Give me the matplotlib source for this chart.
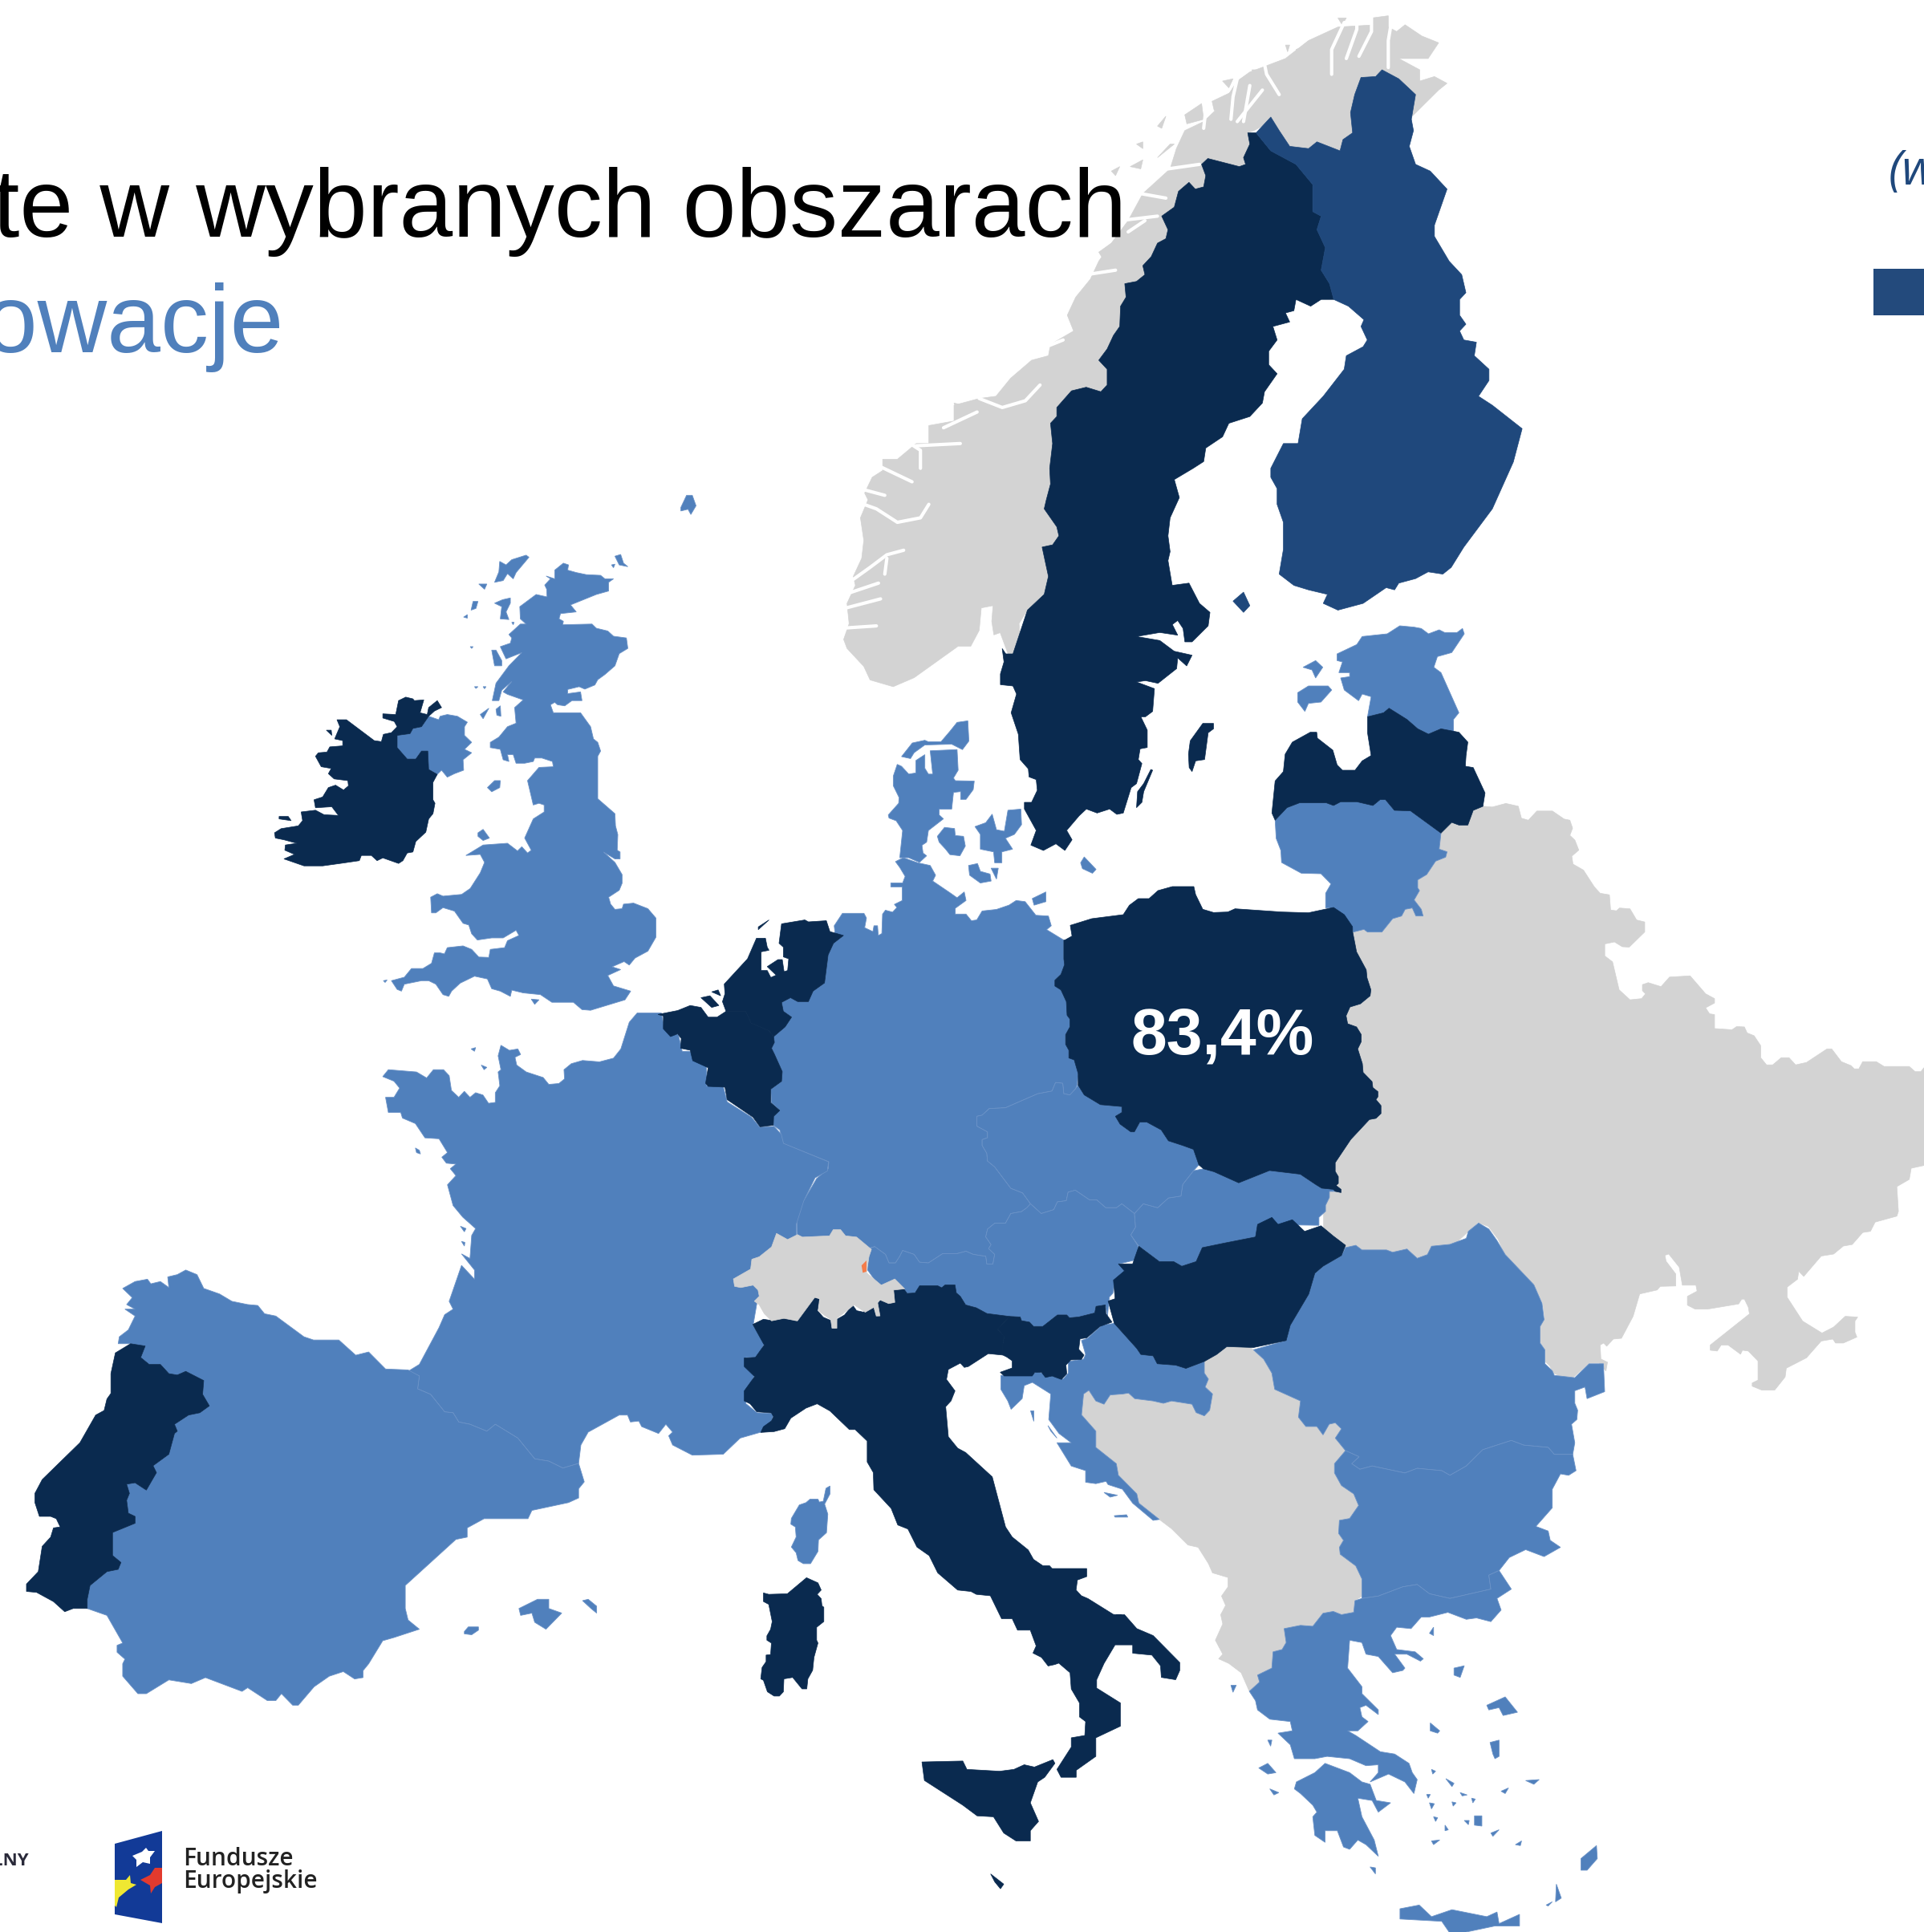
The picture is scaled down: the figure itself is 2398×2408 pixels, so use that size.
import matplotlib
matplotlib.use("Agg")
import matplotlib.pyplot as plt
from matplotlib.patches import Polygon, Rectangle

DARK = "#0A2A4F"
MID = "#5080BC"
FIN = "#1F487C"
GREY = "#D3D3D3"
EDGE = "#6A92C7"


def crop(x0, y0, w, h):
    # outlines were traced on zoomed crops of the picture, this puts them back in picture pixels
    def conv(pts):
        return [(x0 + x * w / 1568, y0 + y * h / 1568) for x, y in pts]
    return conv


z1 = crop(1040, 0, 820, 880)
z2 = crop(320, 600, 560, 680)
z3 = crop(1200, 760, 700, 1568 / 3)
z4 = crop(1200, 1500, 800, 908)
z5 = crop(0, 1250, 1100, 900)
z6 = crop(800, 880, 700, 760)
z7 = crop(1640, 980, 758, 780)
z8 = crop(920, 1580, 520, 560)
preview = crop(0, 0, 2398 * 1568 / 1561, 2408)

norway = z1([(430,1455),(415,1455),(395,1405),(380,1410),(375,1380),(378,1345),(350,1350),(345,1400),(325,1435),(295,1435),(190,1505),(140,1525),(85,1510),(70,1480),(30,1440),(22,1420),(35,1385),(30,1340),(50,1300),(45,1280),(65,1240),(70,1200),(62,1150),(80,1110),(72,1095),(90,1060),(115,1045),(115,1020),(150,1020),(195,985),(225,985),(225,945),(285,935),(285,900),(345,885),(385,880),(420,840),(470,800),(510,790),(515,765),(570,735),(555,700),(575,660),(610,620),(630,580),(660,540),(700,490),(735,430),(800,375),(815,330),(835,290),(880,270),(925,230),(960,180),(990,160),(1075,130),(1130,90),(1200,60),(1290,55),(1320,60),(1340,70),(1360,55),(1400,80),(1440,95),(1415,130),(1345,130),(1395,155),(1395,180),(1430,170),(1460,185),(1440,200),(1375,260),(1385,210),(1345,175),(1305,155),(1290,170),(1255,172),(1240,210),(1230,250),(1235,295),(1212,310),(1205,335),(1150,315),(1130,330),(1085,325),(1060,290),(1040,260),(1020,280),(1000,290),(985,295),(990,320),(975,350),(980,365),(965,370),(890,352),(875,365),(885,390),(880,415),(860,420),(845,405),(820,425),(810,460),(780,480),(795,510),(790,530),(770,540),(755,570),(735,590),(740,610),(720,625),(692,630),(695,660),(682,680),(680,725),(665,745),(650,775),(630,800),(650,820),(650,855),(635,870),(600,860),(565,868),(530,905),(530,925),(515,940),(520,985),(513,1040),(515,1075),(505,1110),(500,1130),(530,1170),(535,1190),(520,1210),(495,1215),(510,1280),(500,1320),(460,1355),(440,1385),(443,1415)])
norway_islets = [z1(p) for p in [
    [(720,320),(735,315),(735,330)], [(770,280),(790,258),(780,285)], [(800,320),(810,320),(770,350)],
    [(815,345),(860,330),(855,350),(820,355)], [(705,370),(735,355),(730,375)], [(660,380),(680,370),(670,390)],
    [(835,255),(875,230),(880,265),(840,275)], [(925,180),(950,175),(940,195)], [(995,155),(1005,155),(1000,165)],
    [(1035,150),(1060,145),(1060,165)], [(1075,100),(1085,100),(1080,115)], [(1200,40),(1220,40),(1210,55)],
    [(1280,40),(1320,35),(1320,60),(1285,60)], [(630,560),(660,540),(640,575)], [(285,895),(298,898),(290,908)],
    [(1100,110),(1140,95),(1120,135)], [(900,225),(945,205),(935,240),(905,245)],
]]
norway_fjords = [z1(p) for p in [
    [(1185,165),(1185,110),(1215,50)], [(1220,130),(1245,65),(1245,35)], [(1250,125),(1280,70),(1280,35)], [(1320,150),(1320,90),(1330,35)],
    [(1060,210),(1030,165),(1020,120)], [(1020,200),(960,270)], [(990,190),(975,270)], [(945,265),(950,215),(960,175)],
    [(880,285),(885,245)], [(105,1295),(25,1320)], [(110,1330),(20,1352)], [(40,1290),(85,1260),(125,1232),(165,1222)], [(125,1240),(120,1275)],
    [(225,1120),(205,1150),(150,1160),(100,1130),(55,1115)], [(60,1085),(120,1100)], [(95,1030),(185,1070)],
    [(205,1040),(205,1000),(180,985)], [(195,990),(300,985)], [(260,950),(340,915)], [(345,885),(400,905),(455,890),(490,855)],
    [(600,610),(670,600)], [(505,770),(545,755)], [(700,425),(790,440)],
    [(680,490),(770,480)], [(700,515),(740,490)], [(795,375),(870,365)], [(100,1390),(20,1395)],
]]
sweden = z1([(460,1355),(500,1320),(510,1280),(495,1215),(520,1210),(535,1190),(530,1170),(500,1130),(505,1110),(515,1075),(513,1040),(520,985),(515,940),(530,925),(530,905),(565,868),(600,860),(635,870),(650,855),(650,820),(630,800),(650,775),(665,745),(680,725),(682,680),(695,660),(692,630),(720,625),(740,610),(735,590),(755,570),(770,540),(790,530),(795,510),(780,480),(810,460),(820,425),(845,405),(860,420),(880,415),(885,390),(875,365),(890,352),(965,370),(980,365),(975,350),(990,320),(985,295),(1005,295),(1040,335),(1100,365),(1140,410),(1140,470),(1160,480),(1150,510),(1170,550),(1160,600),(1180,630),(1190,665),(1160,665),(1135,680),(1100,665),(1095,690),(1075,695),(1085,715),(1045,725),(1055,755),(1035,780),(1035,810),(1055,830),(1025,870),(1020,895),(990,925),(940,940),(925,970),(885,995),(880,1025),(855,1040),(810,1065),(822,1105),(800,1150),(795,1190),(800,1225),(795,1245),(805,1300),(845,1295),(870,1340),(895,1360)]) + z3([(685,60),(640,120),(620,120),(615,70),(600,40),(585,55),(600,95),(550,85),(485,100),(550,115),(590,155),(640,170),(625,210),(600,180),(597,220),(545,275),(510,265),(485,270),(535,295),(530,380),(510,400),(497,400),(515,450),(515,515),(495,520),(490,560),(500,575),(485,650),(470,665),(448,760),(430,765),(410,745),(375,760),(345,745),(325,770),(290,825),(305,860),(285,900),(260,875),(225,900),(190,880),(205,825),(172,745),(172,720),(192,720),(208,675),(205,635),(185,625),(183,595),(160,560),(155,465),(135,385),(150,315),(140,285),(105,280),(105,240),(115,195),(110,145),(120,165),(140,165)])
gotland = z3([(635,490),(670,425),(700,425),(700,445),(685,460),(675,560),(650,565),(640,605),(632,590),(630,540)])
oland = z3([(485,740),(488,680),(505,650),(525,597),(530,600),(505,680),(500,720)])
finland = z1([(1005,295),(1040,260),(1060,290),(1085,325),(1130,330),(1150,315),(1205,335),(1212,310),(1235,295),(1230,250),(1240,210),(1255,172),(1290,170),(1305,155),(1345,175),(1385,210),(1375,265),(1380,290),(1370,325),(1385,365),(1420,380),(1460,420),(1430,500),(1430,525),(1465,580),(1495,610),(1505,650),(1490,665),(1490,700),(1505,720),(1490,735),(1500,755),(1530,760),(1525,790),(1560,820),(1560,845),(1535,880),(1568,900),(1639,952),(1618,1026),(1568,1130),(1500,1215),(1470,1260),(1450,1275),(1415,1270),(1385,1285),(1345,1295),(1335,1310),(1315,1305),(1260,1340),(1200,1355),(1165,1340),(1175,1320),(1130,1310),(1095,1300),(1060,1275),(1070,1220),(1070,1160),(1055,1120),(1055,1085),(1040,1060),(1040,1040),(1070,985),(1105,985),(1115,930),(1165,880),(1215,820),(1220,790),(1260,770),(1270,755),(1255,725),(1262,710),(1225,680),(1190,665),(1180,630),(1160,600),(1170,550),(1150,510),(1160,480),(1140,470),(1140,410),(1100,365),(1040,335)])
aland = z1([(950,1335),(975,1315),(990,1345),(975,1360)])
estonia = z3([(1045,165),(1100,130),(1115,100),(1185,90),(1220,60),(1260,65),(1280,70),(1300,90),(1330,75),(1345,85),(1380,85),(1395,70),(1400,90),(1365,160),(1325,175),(1315,215),(1335,235),(1385,385),(1370,410),(1370,455),(1335,445),(1300,465),(1270,445),(1240,410),(1190,368),(1175,385),(1130,400),(1140,325),(1115,315),(1105,340),(1065,300),(1055,255),(1080,250),(1080,235),(1050,235),(1060,195),(1045,190)])
hiiumaa = z3([(950,215),(985,190),(1005,215),(985,255),(975,225)])
saaremaa = z3([(935,310),(965,285),(1020,285),(1030,300),(1000,345),(965,350),(955,380),(935,345)])
latvia = z3([(863,760),(872,640),(895,605),(900,540),(920,495),(970,458),(988,458),(990,480),(1033,525),(1045,580),(1060,600),(1095,600),(1115,565),(1140,545),(1130,460),(1130,400),(1175,385),(1190,368),(1240,410),(1270,445),(1300,465),(1335,445),(1385,458),(1410,495),(1405,545),(1403,585),(1425,590),(1458,685),(1452,735),(1425,750),(1410,805),(1385,805),(1365,795),(1335,835),(1250,752),(1205,750),(1180,710),(1165,710),(1145,732),(1100,718),(1055,718),(1035,732),(1015,722),(940,722),(905,740),(872,787)])
lithuania = z3([(872,787),(905,740),(940,722),(1015,722),(1035,732),(1055,718),(1100,718),(1145,732),(1165,710),(1180,710),(1205,750),(1250,752),(1335,835),(1330,895),(1352,905),(1348,925),(1320,940),(1295,990),(1270,1010),(1270,1040),(1275,1050),(1260,1085),(1280,1120),(1285,1145),(1265,1145),(1255,1115),(1235,1120),(1225,1145),(1200,1155),(1170,1205),(1130,1205),(1120,1195),(1090,1205),(1085,1180),(1035,1115),(1013,1115),(1013,1060),(1028,1025),(1000,987),(945,985),(890,945),(888,900),(875,855)])
east = z7([(432,50),(455,52),(490,43),(522,50),(530,80),(548,85),(570,62),(610,62),(640,82),(655,85),(662,105),(655,123),(668,135),(678,160),(660,175),(663,195),(690,210),(718,252),(733,268),(757,272),(760,310),(775,312),(783,305),(810,307),(827,335),(848,340),(848,365),(808,403),(790,402),(770,390),(745,395),(745,425),(765,440),(782,510),(810,535),(840,532),(850,520),(842,512),(842,497),(857,492),(890,502),(912,478),(965,475),(1005,520),(1028,532),(1028,543),(1005,555),(1015,570),(1028,572),(1028,607),(1073,610),(1085,602),(1105,603),(1112,618),(1130,625),(1147,650),(1147,680),(1162,698),(1178,698),(1200,680),(1220,680),(1237,698),(1265,692),(1318,658),(1330,658),(1355,690),(1380,700),(1388,708),(1400,708),(1410,690),(1445,690),(1465,702),(1530,702),(1545,715),(1560,715),(1568,705),(1568,950),(1535,957),(1530,985),(1498,1003),(1502,1065),(1498,1077),(1442,1092),(1430,1115),(1410,1118),(1383,1148),(1360,1152),(1335,1172),(1303,1177),(1258,1228),(1245,1215),(1242,1235),(1215,1255),(1215,1280),(1255,1340),(1305,1370),(1335,1355),(1365,1328),(1397,1330),(1390,1340),(1390,1368),(1395,1380),(1360,1395),(1340,1395),(1333,1385),(1303,1390),(1265,1432),(1213,1458),(1210,1480),(1183,1513),(1150,1513),(1125,1503),(1125,1495),(1140,1488),(1140,1440),(1115,1415),(1100,1413),(1095,1423),(1063,1400),(1045,1400),(1035,1415),(1017,1413),(1017,1400),(1118,1322),(1115,1305),(1105,1285),(1098,1285),(1090,1297),(1010,1310),(978,1310),(958,1300),(958,1278),(983,1265),(980,1250),(945,1250),(937,1205),(910,1172),(900,1175),(903,1190),(928,1222),(928,1252),(888,1253),(880,1262),(835,1272),(818,1328),(788,1383),(767,1385),(750,1403),(742,1395),(733,1400),(735,1435),(752,1443),(748,1465),(730,1445),(705,1445),(665,1480),(635,1480),(612,1470),(603,1452),(592,1442),(592,1412),(578,1392),(578,1350),(590,1332),(585,1295),(562,1248),(535,1232),(515,1205),(488,1175),(470,1135),(445,1103),(418,1093),(300,1200),(20,1150),(20,1000),(30,800),(40,500),(60,370),(100,340),(250,250),(300,110),(380,60)])
poland = z3([(285,1235),(305,1220),(300,1180),(360,1155),(448,1140),(465,1105),(490,1080),(520,1080),(545,1050),(585,1035),(645,1035),(650,1065),(670,1120),(700,1132),(740,1130),(760,1118),(890,1130),(965,1133),(1035,1113),(1065,1140),(1088,1185)]) + z7([(95,365),(105,415),(130,460),(132,480),(142,510),(140,525),(115,545),(88,553),(78,575),(82,595),(105,603),(117,622),(117,640),(108,658),(120,695),(122,717),(145,740),(147,755),(160,765),(160,778),(155,785),(168,800),(168,820),(155,832),(138,835),(90,885),(50,943),(50,965),(58,978),(58,995),(52,1000),(65,1010),(65,1018),(50,1015),(45,1010),(15,1007),(0,998)]) + preview([(1055,953),(1030,950),(1005,960),(985,951)]) + z6([(1568,1190),(1555,1180),(1540,1140),(1510,1130),(1470,1118),(1450,1090),(1410,1070),(1390,1070),(1375,1095),(1365,1095),(1335,1075),(1322,1055),(1340,1045),(1340,1030),(1280,1025),(1235,1000),(1218,975),(1218,945),(1207,910),(1192,905),(1192,885),(1183,870),(1183,845),(1195,825),(1195,805),(1187,795),(1185,760),(1170,730),(1153,720),(1153,705),(1170,690),(1180,665),(1178,650),(1178,602)])
germany = z6([(708,400),(730,390),(770,403),(805,410),(820,435),(812,450),(860,480),(880,493),(900,478),(905,500),(875,520),(875,535),(905,535),(920,552),(935,550),(950,527),(990,523),(1025,512),(1045,500),(1070,503),(1100,538),(1135,540),(1143,565),(1130,575),(1178,602),(1178,650),(1180,665),(1170,690),(1153,705),(1153,720),(1170,730),(1185,760),(1187,795),(1195,805),(1195,825),(1183,845),(1183,870),(1192,885),(1192,905),(1207,910),(1218,945),(1215,975),(1210,985),(1195,1000),(1178,997),(1175,970),(1155,968),(1145,990),(1105,997),(1015,1033),(970,1035),(950,1052),(935,1055),(935,1080),(965,1095),(965,1110),(950,1115),(950,1130),(963,1150),(965,1170),(985,1185),(1030,1240),(1063,1252),(1085,1280),(1075,1290),(1060,1300),(1030,1305),(1015,1330),(985,1330),(965,1345),(960,1365),(975,1385),(968,1395),(985,1410),(980,1435),(963,1435),(960,1415),(925,1410),(905,1402),(880,1408),(840,1408),(800,1432),(775,1430),(760,1410),(728,1400),(720,1415),(708,1432),(690,1432),(680,1410),(650,1390),(630,1395),(600,1420),(525,1400),(435,1400),(433,1325),(450,1275),(488,1215),(520,1190),(522,1172),(395,1125),(385,1090),(367,1078),(368,1055),(385,1040),(362,1020),(360,985),(390,965),(392,940),(370,895),(362,880),(370,865),(368,850),(400,825),(418,800),(395,785),(390,762),(415,750),(435,760),(465,760),(478,733),(510,712),(520,640),(535,610),(563,590),(540,590),(537,565),(560,533),(620,533),(627,545),(622,570),(645,580),(648,565),(658,565),(660,590),(670,585),(672,535),(680,525),(700,530),(712,518),(705,510),(727,500),(727,465),(695,465),(695,455),(728,455),(735,438),(720,415)])
denmark = z6([(720,390),(728,320),(710,295),(690,288),(688,280),(717,250),(718,235),(702,205),(702,180),(713,150),(725,155),(745,175),(765,172),(765,140),(790,125),(790,160),(800,175),(812,175),(805,115),(880,112),(883,165),(870,185),(875,192),(928,193),(925,215),(905,240),(890,240),(890,220),(870,222),(865,265),(830,265),(830,280),(842,290),(800,320),(795,350),(782,358),(785,378),(795,385),(775,402),(745,390)])
vendsyssel = z6([(725,130),(755,95),(790,88),(800,92),(835,92),(860,65),(880,42),(910,38),(913,90),(895,112),(865,98),(790,100),(760,120),(750,135)])
funen = z6([(825,335),(845,312),(873,315),(875,333),(898,335),(903,360),(888,385),(860,382),(848,368),(830,350)])
zealand = z6([(930,310),(960,300),(978,278),(990,318),(1012,322),(1022,268),(1058,265),(1060,305),(1040,330),(1015,340),(1035,368),(1005,375),(1005,403),(985,403),(982,375),(945,368),(945,330)])
lolland = z6([(912,410),(937,405),(945,425),(972,432),(975,450),(945,455),(915,435)])
falster = z6([(975,417),(995,417),(990,445)])
bornholm = z6([(1235,388),(1268,420),(1258,430),(1230,418),(1225,403)])
rugen = z6([(1090,495),(1128,478),(1128,503),(1095,512)])
netherlands = z6([(230,715),(295,650),(320,597),(345,597),(350,620),(355,628),(333,632),(333,680),(350,680),(360,698),(375,692),(350,670),(380,652),(392,652),(397,683),(407,680),(410,650),(395,645),(395,620),(383,610),(390,560),(455,550),(465,555),(515,552),(525,580),(563,590),(535,610),(520,640),(510,712),(478,733),(465,760),(435,760),(415,750),(390,762),(395,785),(418,800),(400,825),(368,850),(355,835),(305,815),(290,785),(235,785),(225,760),(232,740)])
texel = z6([(325,568),(355,550),(325,575)])
zeeland1 = z6([(165,750),(190,745),(215,770),(195,775)])
zeeland2 = z6([(195,735),(213,730),(220,745)])
belgium = z6([(45,793),(100,783),(135,770),(165,775),(185,800),(210,800),(235,785),(290,785),(305,815),(355,835),(368,850),(370,865),(362,880),(370,895),(392,940),(390,965),(360,985),(360,1020),(385,1040),(368,1055),(367,1078),(330,1082),(310,1057),(238,1012),(232,980),(185,978),(178,970),(185,930),(142,912),(135,885),(108,880),(110,855),(100,843),(80,850),(60,830),(60,797)])
france = z5([(680,160),(690,145),(740,150),(758,163),(770,145),(788,145),(798,158),(802,190),(815,205),(825,192),(835,205),(845,195),(858,200),(868,218),(880,216),(880,195),(888,180),(885,150),(890,145),(885,115),(890,92),(905,103),(920,100),(925,112),(915,118),(918,135),(935,150),(965,162),(975,177),(993,175),(1003,165),(1002,145),(1015,132),(1035,125),(1065,128),(1090,120),(1103,100),(1118,42),(1132,22),(1175,22),(1180,55),(1190,70),(1205,68),(1212,105),(1225,105),(1255,135),(1255,180),(1285,182),(1292,215),(1335,248),(1350,270),(1375,268),(1388,285),(1392,305),(1472,345),(1470,365),(1448,380),(1428,430),(1415,480),(1415,530),(1380,560),(1345,650),(1338,700),(1358,740),(1345,770),(1325,770),(1325,790),(1340,810),(1325,850),(1325,870),(1345,890),(1375,892),(1370,910),(1352,932),(1315,945),(1285,980),(1230,982),(1195,960),(1188,940),(1195,932),(1183,915),(1170,935),(1140,920),(1135,908),(1120,910),(1115,895),(1100,895),(1045,932),(1032,960),(1028,1000),(1000,1010),(975,995),(950,990),(920,945),(880,915),(865,930),(835,915),(815,910),(805,890),(790,888),(765,850),(742,838),(745,810),(725,800),(745,785),(780,705),(790,677),(805,665),(798,648),(820,570),(843,600),(843,580),(820,545),(835,555),(838,505),(845,490),(822,465),(805,440),(795,395),(810,375),(800,360),(810,350),(793,348),(785,335),(795,325),(780,295),(755,293),(738,262),(715,250),(712,238),(690,238),(685,205),(700,205),(710,185),(700,170)])
spain = z5([(210,740),(212,725),(228,710),(240,680),(222,665),(240,665),(225,655),(235,640),(218,620),(240,605),(262,600),(268,610),(285,605),(300,618),(298,595),(315,590),(330,580),(350,590),(362,620),(390,632),(412,648),(440,655),(458,657),(470,675),(490,680),(540,725),(557,732),(602,732),(632,765),(655,758),(685,795),(725,797),(745,810),(742,838),(765,850),(790,888),(805,890),(815,910),(835,915),(865,930),(880,915),(920,945),(950,990),(975,995),(1000,1010),(1028,1000),(1038,1040),(1028,1055),(1028,1075),(1010,1085),(945,1102),(938,1120),(860,1120),(830,1140),(830,1160),(810,1165),(720,1265),(720,1315),(725,1340),(745,1360),(700,1378),(680,1385),(655,1435),(645,1450),(645,1465),(630,1468),(610,1452),(585,1462),(558,1485),(530,1525),(520,1525),(500,1500),(490,1515),(475,1515),(440,1487),(430,1495),(365,1465),(340,1478),(300,1470),(260,1500),(245,1500),(218,1462),(218,1435),(222,1425),(208,1410),(208,1395),(218,1390),(190,1330),(155,1315),(155,1295),(160,1265),(190,1235),(210,1230),(215,1215),(200,1200),(200,1150),(240,1130),(240,1115),(228,1108),(225,1080),(230,1065),(225,1045),(240,1042),(260,1058),(278,1020),(272,1005),(300,980),(310,935),(315,930),(310,915),(335,895),(355,890),(372,875),(360,850),(362,820),(330,800),(315,808),(300,805),(285,785),(265,785),(250,770),(258,745),(232,740)])
portugal = z5([(205,760),(232,740),(258,745),(250,770),(265,785),(285,785),(300,805),(315,808),(330,800),(362,820),(360,850),(372,875),(355,890),(335,895),(310,915),(315,930),(310,935),(300,980),(272,1005),(278,1020),(260,1058),(240,1042),(225,1045),(230,1065),(225,1080),(228,1108),(240,1115),(240,1130),(200,1150),(200,1200),(215,1215),(210,1230),(190,1235),(160,1265),(155,1295),(155,1315),(130,1315),(115,1322),(95,1300),(65,1280),(47,1278),(47,1262),(68,1235),(75,1180),(90,1160),(95,1140),(107,1138),(100,1120),(90,1115),(70,1115),(62,1085),(62,1065),(75,1035),(142,955),(170,895),(185,885),(190,860),(197,848),(197,805)])
mallorca = z5([(922,1315),(955,1295),(975,1295),(975,1315),(998,1325),(970,1360),(950,1345),(945,1325),(925,1330)])
menorca = z5([(1035,1298),(1045,1295),(1060,1310),(1060,1325),(1050,1315)])
ibiza = z5([(825,1365),(832,1355),(850,1355),(850,1362),(838,1372),(825,1370)])
atlantic_islets = [z5(p) for p in [[(837,100),(845,97),(843,105)], [(855,135),(865,140),(860,145)], [(738,315),(745,320),(747,328),(740,325)], [(818,485),(828,490),(825,497)], [(820,518),(826,520),(825,528)]]]
italy = z8([(55,198),(95,180),(130,185),(170,175),(220,187),(270,115),(285,103),(305,110),(298,150),(320,173),(350,185),(358,212),(368,212),(372,180),(400,165),(430,130),(445,150),(470,155),(490,140),(510,140),(518,170),(530,170),(520,130),(540,108),(565,125),(585,122),(575,90),(580,75),(622,73),(635,90),(665,88),(682,63),(750,63),(765,70),(778,60),(815,60),(820,88),(835,100),(855,130),(895,140),(935,160),(1020,170),(975,215),(1000,240),(995,265),(995,305),(940,300),(865,345),(850,348),(835,333),(790,355),(783,390),(815,430),(800,465),(780,485),(790,590),(825,630),(855,645),(955,730),(1005,905),(1030,940),(1090,985),(1110,1018),(1145,1040),(1170,1040),(1180,1050),(1310,1050),(1310,1078),(1275,1090),(1270,1125),(1290,1145),(1315,1155),(1410,1210),(1440,1212)]) + z4([(375,885),(395,885),(425,915),(465,930),(530,988),(530,1005),(520,1025),(485,1020),(483,995),(462,972),(415,968),(415,950),(372,950),(345,990),(327,1025),(327,1043),(385,1075),(385,1125),(325,1150),(325,1190),(277,1220),(277,1235),(240,1235),(230,1218),(265,1170),(265,1150),(298,1145),(300,1115),(285,1105),(285,1075),(265,1045),(262,1010)]) + z8([(1205,1380),(1190,1385),(1165,1390),(1140,1360),(1108,1345),(1120,1320),(1098,1265),(1050,1265),(1030,1225),(990,1225),(948,1145),(895,1140),(875,1130),(825,1125),(750,1065),(718,1005),(672,975),(638,912),(600,898),(575,840),(510,775),(508,715),(485,678),(485,605),(440,565),(418,565),(345,500),(297,475),(255,490),(198,525),(175,562),(135,572),(85,575),(95,555),(125,535),(133,520),(125,507),(70,503),(45,475),(23,465),(23,430),(62,380),(23,345),(23,315),(65,313),(98,270)])
sicily = preview([(748,1430),(750,1445)]) + z4([(0,1295),(35,1318),(75,1320),(100,1355),(130,1372),(165,1372),(165,1350),(185,1330),(165,1290),(183,1245),(200,1235),(225,1205),(220,1197),(175,1213),(150,1208),(125,1218),(90,1222),(10,1218),(0,1200)])
sardinia = z8([(95,1135),(115,1140),(185,1138),(257,1082),(300,1100),(312,1125),(297,1140),(312,1155),(315,1180),(322,1185),(322,1235),(295,1255),(295,1300),(300,1310),(285,1360),(280,1405),(262,1435),(258,1470),(240,1470),(205,1430),(172,1435),(170,1480),(155,1495),(135,1495),(110,1480),(95,1440),(85,1435),(90,1395),(105,1375),(105,1352),(122,1350),(125,1310),(108,1300),(108,1285),(122,1262),(128,1235),(115,1175),(95,1165)])
corsica = z8([(330,770),(345,762),(345,790),(325,825),(337,860),(332,925),(302,950),(300,990),(272,1033),(245,1033),(225,1022),(218,995),(200,975),(218,940),(215,905),(198,895),(200,875),(230,828),(255,820),(270,808),(300,808),(305,818),(320,815)])
slovenia = z8([(1020,170),(1060,172),(1065,185),(1095,190),(1110,205),(1145,205),(1200,165),(1235,165),(1245,175),(1280,172),(1340,158),(1345,135),(1380,130),(1382,160),(1405,190),(1360,205),(1310,245),(1285,248),(1280,285),(1300,305),(1290,320),(1250,322),(1232,340),(1235,370),(1215,390),(1180,378),(1155,383),(1140,365),(1115,365),(1105,378),(1000,378),(985,365),(1030,350),(1030,325),(1010,312),(995,305),(995,265),(1000,240),(975,215)])
hungary = z4([(355,210),(372,205),(368,165),(395,145),(380,130),(415,130),(430,92),(480,125),(515,125),(535,135),(570,125),(585,95),(640,85),(715,72),(720,45),(755,30),(770,45),(805,35),(835,60),(875,48),(905,70),(935,90),(925,112),(880,135),(860,150),(845,195),(800,262),(790,295),(710,310),(645,308),(620,325),(590,340),(545,355),(520,348),(475,345),(465,328),(435,325),(425,312),(370,258)])
slovakia = z6([(1375,1305),(1400,1280),(1440,1290),(1470,1265),(1505,1260),(1510,1230),(1540,1195),(1568,1190)]) + preview([(985,951),(1005,960),(1030,950),(1055,953)]) + z7([(0,998),(15,1007),(45,1010),(50,1015),(35,1015),(35,1030),(25,1050),(25,1065),(8,1080),(8,1100)]) + z4([(720,45),(715,72),(640,85),(585,95),(570,125),(535,135),(515,125),(480,125),(430,92)]) + z6([(1365,1360),(1378,1340)])
czechia = z6([(935,1055),(950,1052),(970,1035),(1015,1033),(1105,997),(1145,990),(1155,968),(1175,970),(1178,997),(1195,1000),(1210,985),(1218,975),(1235,1000),(1280,1025),(1340,1030),(1340,1045),(1322,1055),(1335,1075),(1365,1095),(1375,1095),(1390,1070),(1410,1070),(1450,1090),(1470,1118),(1510,1130),(1540,1140),(1555,1180),(1540,1195),(1510,1230),(1505,1260),(1470,1265),(1440,1290),(1400,1280),(1375,1305),(1340,1280),(1325,1290),(1295,1290),(1270,1270),(1250,1270),(1210,1245),(1190,1250),(1185,1272),(1160,1275),(1150,1295),(1115,1305),(1085,1280),(1063,1252),(1030,1240),(985,1185),(965,1170),(963,1150),(950,1130),(950,1115),(965,1110),(965,1095),(935,1080)])
austria = z6([(960,1365),(965,1345),(985,1330),(1015,1330),(1030,1305),(1060,1300),(1075,1290),(1085,1280),(1115,1305),(1150,1295),(1160,1275),(1185,1272),(1190,1250),(1210,1245),(1250,1270),(1270,1270),(1295,1290),(1325,1290),(1340,1280),(1375,1305),(1378,1340),(1365,1360),(1385,1388),(1385,1415),(1375,1425),(1330,1435),(1350,1445),(1345,1465),(1320,1475),(1315,1510),(1305,1520),(1300,1568)]) + z8([(1380,130),(1345,135),(1340,158),(1280,172),(1245,175),(1235,165),(1200,165),(1145,205),(1110,205),(1095,190),(1065,185),(1060,172),(1020,170),(935,160),(895,140),(855,130),(835,100),(820,88),(815,60),(778,60),(765,70),(750,63),(682,63),(665,88),(635,90),(622,73)]) + z6([(705,1475),(680,1490),(660,1488),(630,1450),(635,1395),(650,1390),(680,1410),(690,1432),(708,1432),(720,1415),(728,1400),(760,1410),(775,1430),(800,1432),(840,1408),(880,1408),(905,1402),(925,1410),(960,1415),(963,1435),(980,1435),(985,1410),(968,1395),(975,1385)])
switzerland = preview([(595,1038),(609,1030),(610,1022),(616,1020),(626,1012),(630,1001),(639,1006),(647,1002),(651,1004),(673,1003),(676,998),(682,998),(686,1003),(695,1004),(707,1014),(705,1020),(703,1033),(715,1043),(726,1038),(734,1046),(725,1047),(726,1057),(721,1058),(714,1055),(712,1057),(714,1068),(711,1068),(709,1061),(702,1065),(693,1059),(679,1070),(679,1078),(675,1078),(674,1071),(664,1064),(665,1054),(661,1053),(647,1072),(636,1070),(626,1072),(620,1066),(616,1059),(612,1056),(616,1052),(615,1047),(611,1043),(601,1045),(596,1044)])
liechtenstein = preview([(703,1023),(703,1032),(700,1033),(699,1027)])
croatia = z4([(93,370),(105,370),(165,370),(180,362),(215,370),(245,378),(258,365),(258,340),(295,335),(300,325),(290,295),(305,290),(340,262),(370,258),(425,312),(435,325),(465,328),(475,345),(520,348),(545,355),(590,340),(590,365),(600,378),(592,395),(610,410),(603,445),(590,457),(570,450),(560,432),(510,425),(490,430),(465,425),(420,420),(405,408),(390,410),(360,412),(345,432),(325,425),(308,402),(295,410),(290,455),(325,490),(325,525),(375,560),(380,585),(425,625),(430,645),(480,680),(465,682),(415,645),(390,615),(355,605),(350,598),(325,603),(300,600),(300,575),(265,565),(230,515),(265,515),(235,495),(210,465),(215,410),(170,385),(150,392),(145,420),(118,443),(110,425),(93,400)])
balkans = z4([(590,340),(620,325),(645,308),(700,308),(710,315),(735,335),(755,365),(762,400),(825,425),(820,460),(838,480),(865,480),(880,498),(895,475),(910,472),(925,485),(910,505),(935,532),(908,560),(908,580),(925,607),(955,625),(967,650),(945,678),(920,682),(918,710),(930,725),(920,740),(922,755),(960,780),(975,808),(975,845),(958,855),(955,880),(925,885),(905,878),(880,882),(855,910),(825,908),(785,915),(790,945),(780,960),(758,965),(755,1000),(720,1015),(725,1030),(700,1050),(680,1010),(650,990),(625,980),(635,970),(617,940),(635,905),(630,885),(642,865),(632,845),(648,825),(648,805),(610,795),(600,775),(575,740),(550,735),(510,700),(480,680),(430,645),(425,625),(380,585),(375,560),(325,525),(325,490),(290,455),(295,410),(308,402),(325,425),(345,432),(360,412),(405,408),(420,420),(465,425),(490,430),(510,425),(560,432),(570,450),(590,457),(603,445),(610,410),(592,395),(600,378),(590,365)])
romania = z4([(790,295),(800,262),(845,195),(860,150),(880,135),(925,112),(935,95),(960,90),(975,100),(1035,100),(1050,105),(1085,98),(1110,118),(1135,110),(1145,92),(1190,88),(1230,75),(1235,60),(1260,42),(1285,55),(1305,80),(1325,110),(1395,175),(1415,215),(1420,250),(1410,265),(1410,300),(1422,315),(1422,345),(1440,360),(1445,370),(1495,375),(1530,345),(1565,345),(1568,405),(1525,420),(1520,395),(1495,403),(1495,430),(1502,445),(1500,465),(1487,475),(1495,515),(1490,540),(1445,540),(1430,525),(1370,520),(1340,510),(1270,530),(1230,565),(1190,585),(1170,575),(1110,570),(1080,580),(1000,565),(970,572),(950,560),(968,545),(935,532),(910,505),(925,485),(910,472),(895,475),(880,498),(865,480),(838,480),(820,460),(825,425),(762,400),(755,365),(735,335),(710,315)])
bulgaria = z4([(935,532),(968,545),(950,560),(970,572),(1000,565),(1080,580),(1110,570),(1170,575),(1190,585),(1230,565),(1270,530),(1340,510),(1370,520),(1430,525),(1445,540),(1490,540),(1498,575),(1480,585),(1460,582),(1440,615),(1440,655),(1400,695),(1430,705),(1435,725),(1460,740),(1420,760),(1375,745),(1335,762),(1310,790),(1285,800),(1290,830),(1190,850),(1140,840),(1110,820),(1075,825),(1015,845),(975,850),(975,808),(960,780),(922,755),(920,740),(930,725),(918,710),(920,682),(945,678),(967,650),(955,625),(925,607),(908,580),(908,560)])
greece = z4([(700,1050),(725,1030),(720,1015),(755,1000),(758,965),(780,960),(790,945),(785,915),(825,908),(855,910),(880,882),(905,878),(925,885),(955,880),(958,855),(975,850),(1015,845),(1075,825),(1110,820),(1140,840),(1190,850),(1290,830),(1285,800),(1310,790),(1340,830),(1305,850),(1315,875),(1290,900),(1255,892),(1230,895),(1185,880),(1140,890),(1120,890),(1095,915),(1060,912),(1045,930),(1060,960),(1105,965),(1125,980),(1118,985),(1085,970),(1055,970),(1080,1000),(1075,1005),(1050,1010),(1015,975),(985,970),(975,945),(945,940),(940,1000),(975,1040),(975,1055),(1015,1090),(1015,1100),(985,1080),(970,1085),(975,1105),(990,1115),(965,1135),(940,1135),(960,1145),(1020,1180),(1055,1185),(1090,1205),(1098,1225),(1110,1240),(1102,1270),(1080,1245),(1040,1228),(995,1245),(1015,1225),(1015,1208),(985,1210),(945,1195),(890,1190),(860,1195),(810,1195),(800,1165),(770,1140),(805,1135),(800,1115),(750,1110),(720,1090),(715,1070)])
peloponnese = z4([(815,1245),(860,1225),(885,1205),(945,1225),(975,1245),(995,1250),(1010,1285),(1045,1290),(1015,1310),(1000,1285),(965,1280),(975,1320),(1005,1370),(1015,1405),(985,1380),(965,1370),(945,1390),(930,1385),(915,1350),(885,1350),(885,1375),(860,1360),(855,1320),(865,1310),(855,1295),(825,1270),(810,1260)])
crete = z4([(1068,1518),(1115,1510),(1145,1535),(1195,1520),(1280,1535),(1305,1525),(1310,1550),(1360,1530),(1360,1555),(1300,1555),(1230,1568),(1225,1590),(1205,1590),(1170,1545),(1068,1540)])
greek_islands = [z4(p) for p in [
    [(1510,1410),(1548,1382),(1550,1410),(1525,1435),(1510,1435)], [(1140,925),(1150,912),(1150,930)],
    [(1200,1000),(1225,995),(1215,1020),(1200,1015)], [(1280,1080),(1325,1062),(1355,1095),(1320,1102),(1310,1085),(1285,1090)],
    [(1288,1160),(1310,1155),(1310,1190),(1300,1195),(1295,1185)], [(1375,1242),(1408,1240),(1395,1250)],
    [(1142,1118),(1165,1135),(1160,1140),(1142,1135)], [(655,1037),(668,1037),(660,1052)],
    [(723,1215),(745,1205),(765,1225),(745,1228)], [(750,1260),(772,1268),(760,1273)], [(745,1155),(755,1155),(752,1168)],
    [(1250,1318),(1268,1318),(1268,1340),(1250,1338)], [(1450,1465),(1462,1495),(1448,1503)], [(995,1428),(1008,1430),(1008,1443)],
    [(345,622),(378,628),(360,632)], [(370,672),(400,670),(403,675),(372,675)], [(165,445),(172,445),(172,468)], [(208,478),(230,505),(215,490)],
    [(1180,1238),(1200,1248),(1195,1255)], [(1315,1265),(1333,1258),(1325,1270)], [(1290,1355),(1310,1348),(1295,1362)],
    [(1145,1372),(1165,1370),(1150,1380)], [(1350,1380),(1365,1372),(1362,1382)], [(1425,1510),(1440,1503),(1430,1512)],
    [(1215,1268),(1232,1273),(1220,1275)], [(1145,1218),(1155,1222),(1148,1228)], [(1133,1272),(1142,1272),(1137,1280)],
    [(1140,1290),(1152,1292),(1145,1303)], [(1195,1288),(1205,1290),(1198,1297)], [(1243,1280),(1252,1282),(1246,1290)],
    [(1225,1328),(1237,1328),(1235,1337)], [(1150,1320),(1160,1322),(1155,1330)], [(1178,1338),(1186,1348),(1178,1350)],
]]
malta = z4([(68,1443),(100,1465),(92,1475),(78,1460)])
britain = z2([(1040,255),(1070,235),(1088,240),(1085,255),(1115,262),(1150,268),(1200,270),(1215,280),(1245,280),(1228,290),(1228,315),(1185,325),(1095,355),(1115,375),(1060,380),(1055,395),(1070,402),(1068,412),(1170,410),(1185,422),(1225,430),(1245,445),(1290,450),(1295,480),(1265,495),(1250,530),(1215,555),(1190,570),(1180,585),(1145,597),(1125,590),(1085,598),(1085,610),(1130,605),(1135,630),(1100,630),(1075,645),(1050,642),(1040,635),(1025,642),(1035,665),(1130,665),(1165,705),(1175,740),(1190,750),(1200,775),(1190,790),(1190,912),(1250,955),(1252,990),(1260,1015),(1258,1060),(1268,1065),(1268,1085),(1250,1085),(1210,1065),(1250,1095),(1275,1130),(1275,1155),(1265,1175),(1228,1195),(1235,1215),(1250,1230),(1275,1228),(1280,1215),(1315,1212),(1365,1228),(1393,1255),(1393,1310),(1365,1350),(1320,1370),(1300,1390),(1282,1380),(1240,1395),(1270,1403),(1225,1420),(1245,1450),(1305,1465),(1285,1490),(1165,1520),(1135,1518),(1105,1497),(1030,1497),(990,1475),(930,1470),(890,1462),(885,1480),(850,1465),(820,1458),(805,1430),(760,1422),(710,1442),(680,1465),(670,1480),(650,1475),(625,1445),(600,1435),(575,1435),(545,1440),(515,1445),(505,1465),(490,1460),(470,1435),(515,1425),(540,1400),(580,1400),(610,1385),(620,1355),(640,1355),(655,1358),(665,1340),(720,1335),(750,1345),(775,1367),(810,1368),(815,1345),(865,1340),(875,1320),(915,1305),(905,1290),(860,1312),(820,1312),(770,1318),(750,1300),(740,1275),(720,1270),(690,1235),(650,1225),(625,1240),(610,1240),(607,1195),(630,1185),(650,1192),(715,1187),(745,1170),(780,1125),(795,1095),(780,1072),(730,1075),(790,1045),(875,1040),(910,1062),(925,1050),(945,1068),(958,1060),(935,1025),(965,970),(1003,950),(1003,930),(985,925),(965,930),(945,860),(985,822),(1035,820),(1032,805),(995,795),(970,795),(965,805),(935,810),(905,810),(895,785),(875,785),(880,805),(860,800),(850,770),(815,765),(815,750),(845,735),(875,705),(905,695),(900,650),(930,628),(875,612),(860,605),(890,575),(855,600),(845,630),(822,630),(835,580),(880,530),(925,492),(870,510),(850,475),(885,465),(890,450),(880,440),(920,410),(940,410),(920,395),(918,360),(975,325),(1013,332),(1012,310),(1005,298),(1025,280),(1010,272),(1040,280)])
n_ireland = z2([(490,730),(535,725),(545,710),(575,705),(600,675),(635,685),(640,675),(665,670),(700,675),(735,692),(725,705),(725,730),(750,750),(725,770),(750,780),(720,800),(722,830),(690,840),(665,850),(645,830),(630,842),(600,828),(597,775),(575,775),(555,798),(525,798),(490,765)])
ireland = z2([(280,685),(313,685),(410,745),(435,748),(442,727),(470,722),(490,705),(480,690),(440,680),(440,668),(485,670),(495,630),(520,620),(545,625),(550,630),(583,628),(570,665),(595,670),(600,650),(630,630),(645,650),(620,660),(600,675),(575,705),(545,710),(535,725),(490,730),(490,765),(525,798),(555,798),(575,775),(597,775),(600,828),(630,842),(615,865),(615,915),(622,925),(615,955),(600,970),(590,1008),(555,1035),(545,1065),(525,1068),(510,1090),(495,1098),(440,1082),(420,1090),(400,1075),(365,1075),(358,1090),(300,1097),(230,1105),(165,1105),(95,1085),(132,1072),(98,1060),(100,1045),(140,1040),(95,1030),(65,1025),(62,1010),(85,998),(145,990),(160,975),(155,950),(205,945),(235,958),(285,960),(262,935),(205,938),(200,915),(230,907),(250,880),(275,873),(303,887),(320,875),(318,860),(270,855),(250,840),(260,825),(225,820),(205,790),(215,780),(245,778),(255,763),(300,760),(300,745),(272,740),(290,705)])
irish_islets = [z2(p) for p in [[(78,963),(110,963),(120,975),(78,970)], [(243,715),(260,715),(262,730)]]]
british_islets = [z2(p) for p in [
    [(848,230),(870,240),(890,225),(940,212),(950,218),(905,262),(895,280),(875,265),(860,285),(830,290),(845,260)],
    [(775,295),(803,295),(795,310)], [(748,370),(755,345),(772,345),(765,365)], [(722,390),(735,383),(735,393)],
    [(830,350),(858,340),(885,335),(885,350),(870,375),(880,397),(850,395),(855,360)], [(820,485),(835,485),(855,515),(855,530),(830,530)],
    [(805,880),(830,860),(850,860),(848,880),(820,892)], [(772,1010),(790,1000),(812,1025),(790,1032),(772,1020)],
    [(835,655),(850,645),(852,675),(838,672)], [(780,670),(810,652),(790,682)], [(958,1488),(985,1490),(970,1503)],
    [(1250,215),(1270,210),(1280,235),(1295,245),(1265,240)], [(1480,75),(1500,40),(1520,40),(1533,70),(1515,95),(1505,80),(1480,85)],
    [(745,475),(755,475),(750,480)], [(442,1435),(455,1433),(448,1440)], [(760,590),(772,590),(765,595)], [(790,590),(800,590),(795,596)],
    [(890,405),(898,405),(895,412)], [(1238,240),(1250,238),(1245,248)],
]]

dark_shapes = [sweden, gotland, oland, latvia, poland, netherlands, texel, zeeland1, zeeland2, belgium, portugal, italy, sicily, sardinia, slovenia, hungary, ireland, malta] + irish_islets
mid_shapes = [estonia, hiiumaa, saaremaa, lithuania, germany, denmark, vendsyssel, funen, zealand, lolland, falster, bornholm, rugen, france, spain, mallorca, menorca, ibiza, corsica, slovakia, czechia, austria, croatia, romania, bulgaria, greece, peloponnese, crete, britain, n_ireland] + greek_islands + british_islets + atlantic_islets
grey_shapes = [norway, east, balkans] + norway_islets

title_line1 = "te w wybranych obszarach"
title_line2 = "owacje"
value_label = "83,4%"

fig = plt.figure(figsize=(23.98, 24.08), dpi=100)
ax = fig.add_axes([0, 0, 1, 1])
ax.set_xlim(0, 2398)
ax.set_ylim(2408, 0)
ax.axis("off")

for shape in grey_shapes:
    ax.add_patch(Polygon(shape, closed=True, facecolor=GREY, edgecolor=GREY, linewidth=0.5))
for line in norway_fjords:
    ax.plot([p[0] for p in line], [p[1] for p in line], color="white", linewidth=3, solid_capstyle="round")
for shape in mid_shapes:
    ax.add_patch(Polygon(shape, closed=True, facecolor=MID, edgecolor=EDGE, linewidth=0.6))
for shape in dark_shapes:
    ax.add_patch(Polygon(shape, closed=True, facecolor=DARK, edgecolor=DARK, linewidth=0.5))
ax.add_patch(Polygon(switzerland, closed=True, facecolor=GREY, edgecolor=GREY, linewidth=0.5))
ax.add_patch(Polygon(finland, closed=True, facecolor=FIN, edgecolor=FIN, linewidth=0.5))
ax.add_patch(Polygon(aland, closed=True, facecolor=FIN, edgecolor=FIN, linewidth=0.5))
ax.add_patch(Polygon(liechtenstein, closed=True, facecolor="#F47C4A", edgecolor="none"))

ax.text(1404, 295, title_line1, ha="right", va="baseline", fontsize=86.3, family="Liberation Sans", color="black")
ax.text(353, 439, title_line2, ha="right", va="baseline", fontsize=86.3, family="Liberation Sans", color=MID)
ax.text(1524, 1314, value_label, ha="center", va="baseline", fontsize=58, family="Liberation Sans", weight="bold", color="white")

# legend stub cut off by the right edge
ax.add_patch(Rectangle((2335, 335), 63, 58, facecolor="#234A7C", edgecolor="none"))
ax.text(2354, 230, "(w", fontsize=44, family="Open Sans", style="italic", color=FIN, va="baseline", clip_on=True)

# logos, bottom left
ax.text(36, 2325, "LNY", ha="right", va="baseline", fontsize=16, family="Open Sans", weight="bold", color="#2A2A3A", clip_on=True)
flag = [(143,2298),(202,2282),(202,2397),(143,2386)]
star_white = [(165,2313),(177,2308),(182,2303),(185,2307),(193,2307),(187,2315),(187,2323),(178,2321),(170,2327),(170,2318)]
star_yellow = [(143,2343),(157,2343),(162,2337),(163,2347),(170,2349),(160,2355),(148,2365),(145,2377),(143,2375)]
star_red = [(175,2343),(187,2337),(193,2328),(202,2328),(202,2347),(193,2352),(188,2360),(187,2350)]
ax.add_patch(Polygon(flag, closed=True, facecolor="#123A97", edgecolor="none"))
ax.add_patch(Polygon(star_white, closed=True, facecolor="white", edgecolor="none"))
ax.add_patch(Polygon(star_yellow, closed=True, facecolor="#EFE832", edgecolor="none"))
ax.add_patch(Polygon(star_red, closed=True, facecolor="#E23A2E", edgecolor="none"))
ax.text(228, 2325, "Fundusze", fontsize=21.5, family="Open Sans", weight="semibold", color="#222222", va="baseline")
ax.text(228, 2353, "Europejskie", fontsize=21.5, family="Open Sans", weight="semibold", color="#222222", va="baseline")

fig.savefig("out.png", dpi=100)
